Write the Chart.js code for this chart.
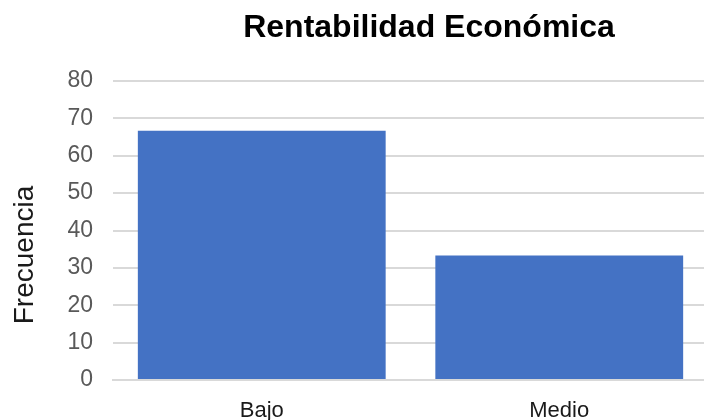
<!DOCTYPE html>
<html>
<head>
<meta charset="utf-8">
<script src="https://cdn.jsdelivr.net/npm/chart.js@4"></script>
<style>
html,body{margin:0;padding:0;overflow:hidden;background:#fff;}
#wrap{width:708px;height:420px;position:relative;}
</style>
</head>
<body>
<div id="wrap"><canvas id="c"></canvas></div>
<script>
const chartTitle = "Rentabilidad Económica";
const yAxisTitle = "Frecuencia";
const categories = ["Bajo", "Medio"];
const frecuencia = [66.7, 33.3];
const yMin = 0, yMax = 80, yStep = 10;

const FONT = "'Liberation Sans', Arial, sans-serif";

const textPlugin = {
  id: 'textPlugin',
  afterDraw(chart) {
    const ctx = chart.ctx;
    ctx.save();
    ctx.fillStyle = '#000';
    ctx.font = "bold 32px " + FONT;
    ctx.textAlign = 'center';
    ctx.textBaseline = 'alphabetic';
    ctx.fillText(chartTitle, 429, 37);
    ctx.translate(33, 255);
    ctx.rotate(-Math.PI / 2);
    ctx.font = "28px " + FONT;
    ctx.fillStyle = '#1a1a1a';
    ctx.textAlign = 'center';
    ctx.fillText(yAxisTitle, 0, 0);
    ctx.restore();
  }
};

new Chart(document.getElementById('c'), {
  type: 'bar',
  data: {
    labels: categories,
    datasets: [{
      label: yAxisTitle,
      data: frecuencia,
      backgroundColor: '#4472C4',
      borderWidth: 0,
      barPercentage: 0.833,
      categoryPercentage: 1.0
    }]
  },
  options: {
    responsive: true,
    maintainAspectRatio: false,
    animation: false,
    devicePixelRatio: 1,
    layout: { padding: { top: 81, right: 0, bottom: 0, left: 0 } },
    plugins: { legend: { display: false }, title: { display: false }, tooltip: { enabled: false } },
    scales: {
      x: {
        grid: { display: false },
        border: { color: '#d9d9d9', width: 2 },
        ticks: { color: '#1a1a1a', font: { family: FONT, size: 22 }, padding: 10 },
        afterFit(scale) { scale.height = 40; }
      },
      y: {
        min: yMin, max: yMax,
        ticks: { stepSize: yStep, color: '#595959', font: { family: FONT, size: 23 }, padding: 20 },
        grid: { color: '#d9d9d9', lineWidth: 2, drawTicks: false },
        border: { display: false },
        afterFit(scale) { scale.width = 113; }
      }
    }
  },
  plugins: [textPlugin]
});
</script>
</body>
</html>
